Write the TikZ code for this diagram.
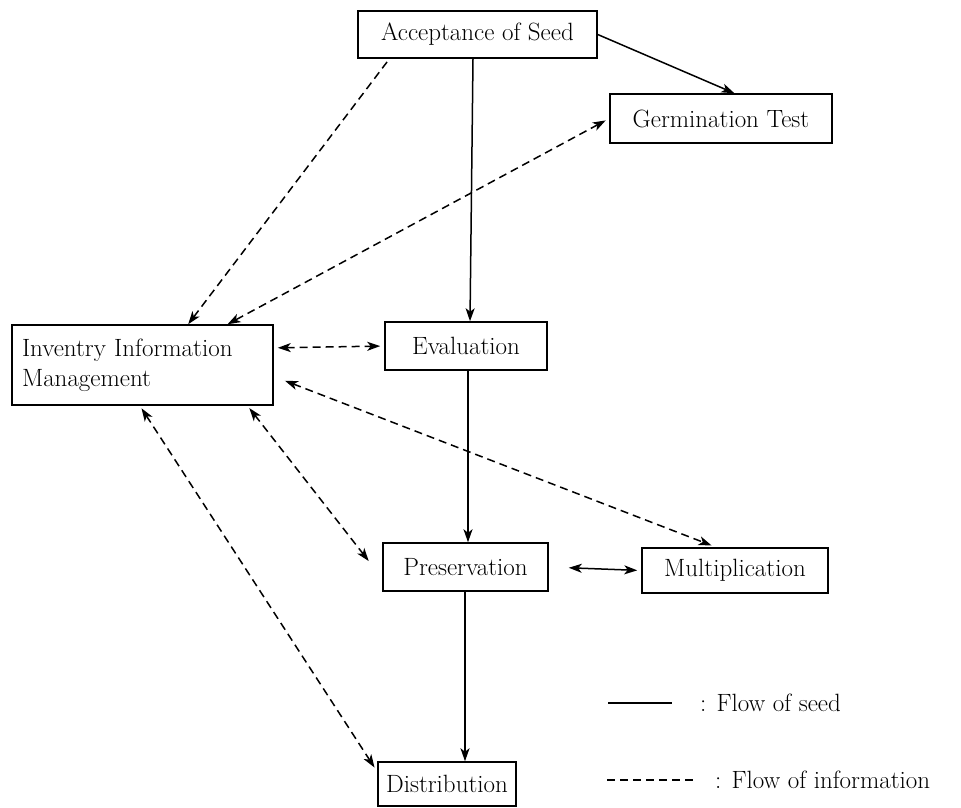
\documentclass[tikz,border=0pt]{standalone}
\usetikzlibrary{arrows.meta,calc}
\begin{document}
\begin{tikzpicture}[x=1pt,y=-1pt,
  box/.style={draw,line width=1.5pt,inner sep=0pt,font=\fontsize{25}{30}\selectfont},
  seed/.style={line width=1.5pt,-{Stealth[length=13pt,width=9pt,inset=3.5pt]}},
  seedb/.style={line width=1.5pt,{Stealth[length=13pt,width=9pt,inset=3.5pt]}-{Stealth[length=13pt,width=9pt,inset=3.5pt]}},
  info/.style={line width=1.5pt,dash pattern=on 8pt off 5pt,-{Stealth[length=13pt,width=9pt,inset=3.5pt]}},
  infob/.style={line width=1.5pt,dash pattern=on 8pt off 5pt,{Stealth[length=13pt,width=9pt,inset=3.5pt]}-{Stealth[length=13pt,width=9pt,inset=3.5pt]}},
  legend/.style={anchor=west,inner sep=0pt,font=\fontsize{25}{30}\selectfont},
]
\useasboundingbox (0,0) rectangle (961,807);
\fill[white] (0,0) rectangle (961,807);

\node[box,minimum width=239pt,minimum height=47pt] (acc) at (477.5,34.5) {Acceptance of Seed};
\node[box,minimum width=222pt,minimum height=49pt] (germ) at (721,118.5) {Germination Test};
\node[box,minimum width=261pt,minimum height=80pt,text width=241pt,align=left,inner xsep=10pt] (iim) at (142.5,365) {Inventry Information\\Management};
\node[box,minimum width=162pt,minimum height=48pt] (eval) at (466,346) {Evaluation};
\node[box,minimum width=165pt,minimum height=48pt] (pres) at (465.5,567) {Preservation};
\node[box,minimum width=186pt,minimum height=45pt] (mult) at (735,570.5) {Multiplication};
\node[box,minimum width=138pt,minimum height=44pt] (dist) at (447,784) {Distribution};

\coordinate (sx1) at (473,0);
\coordinate (sx2) at (470,0);
\coordinate (sx3) at (468,0);
\coordinate (sx4) at (465,0);

% flow of seed
\draw[seed] (acc.south -| sx1) -- (eval.north -| sx2);
\draw[seed] (eval.south -| sx3) -- (pres.north -| sx3);
\draw[seed] (pres.south -| sx4) -- (dist.north -| sx4);
\draw[seed] (acc.east) -- ($(germ.north west)!0.56!(germ.north east)$);
\draw[seedb,shorten <=20pt,shorten >=4pt] (pres.east) -- (mult.west);

% flow of information
\draw[info,shorten <=4pt] ($(acc.south west)!0.134!(acc.south east)$) -- ($(iim.north west)!0.674!(iim.north east)$);
\draw[infob,shorten <=4pt] (germ.west) -- ($(iim.north west)!0.824!(iim.north east)$);
\draw[infob,shorten <=4pt,shorten >=4pt] ($(iim.north east)!0.29!(iim.south east)$) -- (eval.west);
\draw[infob,shorten <=12pt,shorten >=5pt] ($(iim.north east)!0.64!(iim.south east)$) -- ($(mult.north west)!0.4!(mult.north east)$);
\draw[infob,shorten <=3pt,shorten >=22pt] ($(iim.south west)!0.90!(iim.south east)$) -- ($(pres.north west)!0.73!(pres.south west)$);
\draw[infob,shorten <=3pt,shorten >=5pt] ($(iim.south west)!0.49!(iim.south east)$) -- ($(dist.north west)!0.23!(dist.south west)$);

% legend
\coordinate (l1a) at (608,703);
\coordinate (l1b) at (672,703);
\draw[line width=1.5pt] (l1a) -- (l1b);
\node[legend] (lt1) at (700,703) {: Flow of seed};
\coordinate (l2a) at (607,780);
\coordinate (l2b) at (693,780);
\draw[line width=1.5pt,dash pattern=on 8pt off 5pt] (l2a) -- (l2b);
\node[legend] (lt2) at (715,780) {: Flow of information};
\end{tikzpicture}
\end{document}
